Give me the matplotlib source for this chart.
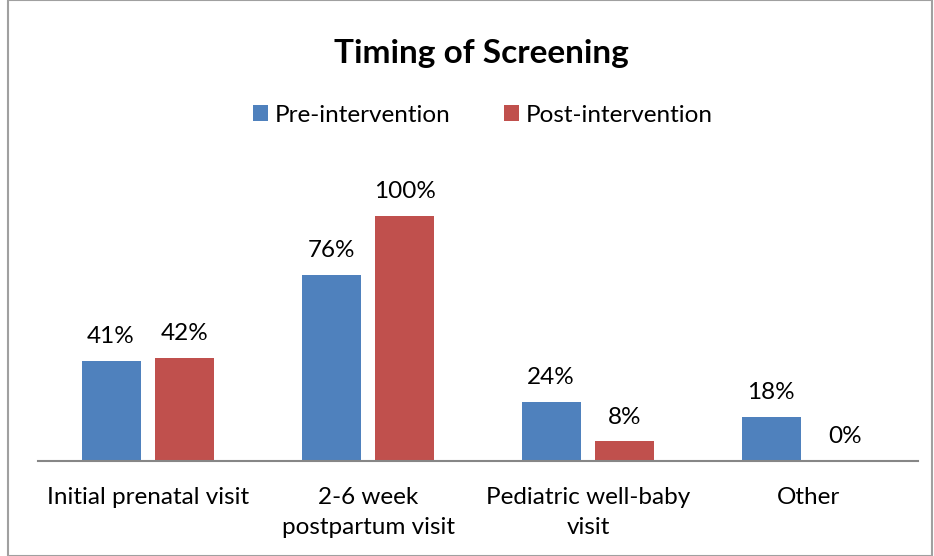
import numpy as np
import matplotlib.pyplot as plt
from matplotlib.patches import Rectangle

categorias = ['Initial prenatal visit', '2-6 week\npostpartum visit',
              'Pediatric well-baby\nvisit', 'Other']
pre = [41, 76, 24, 18]
post = [42, 100, 8, 0]

plt.rcParams['font.family'] = ['Lato', 'DejaVu Sans']

fig = plt.figure(figsize=(9.34, 5.56), dpi=100)
ax = fig.add_axes([38 / 934, 1 - 461 / 556, 880 / 934, 245 * 1.2 / 556])

x = np.arange(len(categorias))
ancho = 0.268
off = 0.168
b1 = ax.bar(x - off, pre, ancho, color='#4F81BD', label='Pre-intervention')
b2 = ax.bar(x + off, post, ancho, color='#C0504D', label='Post-intervention')

for barras in (b1, b2):
    for b in barras:
        v = b.get_height()
        ax.annotate(f'{v:.0f}%', (b.get_x() + b.get_width() / 2, v),
                    xytext=(0, 17.5), textcoords='offset points',
                    ha='center', va='center', fontsize=17.5, color='black')

ax.set_xlim(-0.5, len(categorias) - 0.5)
ax.set_ylim(0, 120)
ax.set_yticks([])
ax.set_xticks(x)
ax.set_xticklabels(categorias, fontsize=17.5, linespacing=1.55)
ax.tick_params(axis='x', length=0, pad=18.5)
for s in ['top', 'right', 'left']:
    ax.spines[s].set_visible(False)
ax.spines['bottom'].set_color('#868686')
ax.spines['bottom'].set_linewidth(1.5)

fig.text(481 / 934, 1 - 53 / 556, 'Timing of Screening', ha='center', va='center',
         fontsize=24, fontweight='bold')
fig.legend(loc='center', bbox_to_anchor=(483 / 934, 1 - 115 / 556), ncol=2,
           frameon=False, fontsize=17.5, handlelength=0.6, handleheight=0.6,
           handletextpad=0.3, columnspacing=2.2)

fig.patches.append(Rectangle((8 / 934, 0), 924 / 934, 1, transform=fig.transFigure,
                             fill=False, edgecolor='#A0A0A0', linewidth=1.5))

plt.savefig('out.png')
